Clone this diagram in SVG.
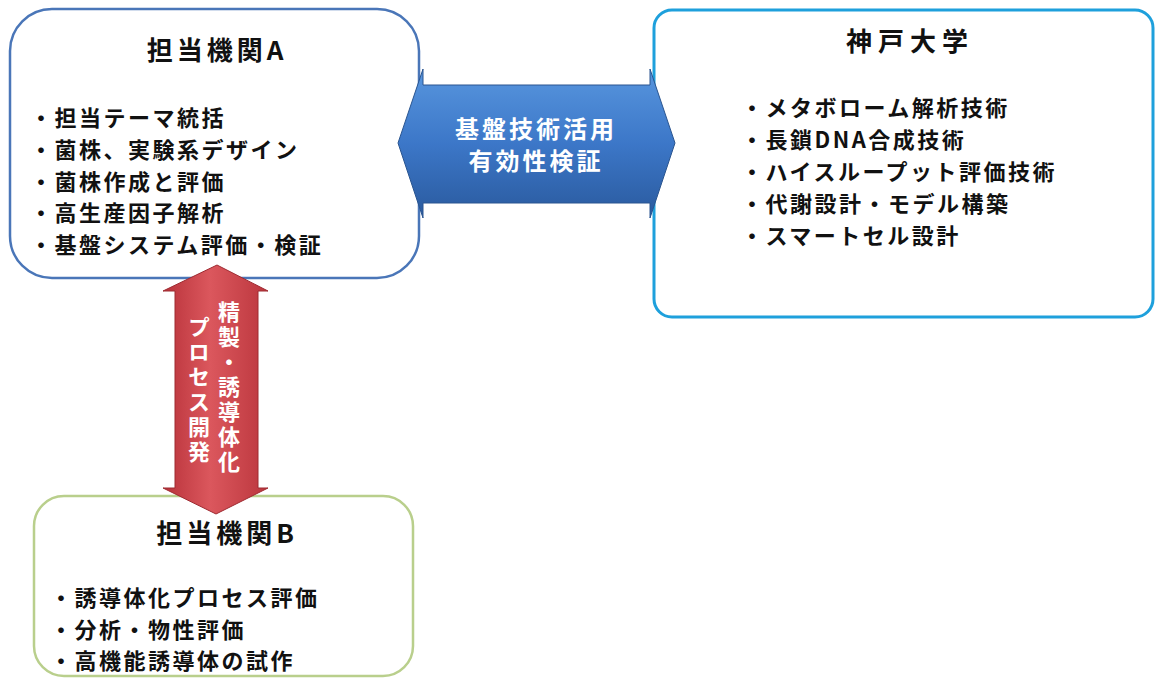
<svg xmlns="http://www.w3.org/2000/svg" width="1155" height="678" viewBox="0 0 1155 678">
<style>
text{font-family:"Noto Sans CJK JP","Noto Sans",sans-serif;font-weight:bold;fill:#111;}
.title{font-size:26px;letter-spacing:4px;text-anchor:middle;}
.item{font-size:22px;letter-spacing:2.5px;}
.wt{fill:#fff;font-size:24px;letter-spacing:3px;text-anchor:middle;}
.vt{fill:#fff;font-size:22px;letter-spacing:3px;text-anchor:middle;writing-mode:vertical-rl;}
.box{fill:#fff;}
</style>
<defs>
<linearGradient id="gBlue" x1="0" y1="0" x2="0" y2="1">
<stop offset="0" stop-color="#5896de"/>
<stop offset="0.5" stop-color="#3c77c8"/>
<stop offset="1" stop-color="#2a5a9e"/>
</linearGradient>
<linearGradient id="gRed" x1="0" y1="0" x2="1" y2="0">
<stop offset="0" stop-color="#b8323a"/>
<stop offset="0.45" stop-color="#db575d"/>
<stop offset="1" stop-color="#bb363d"/>
</linearGradient>
</defs>
<g id="nodeA">
<rect class="box" x="10" y="9" width="409" height="269" rx="42" stroke="#4a76b8" stroke-width="2.5"/>
<text class="title" x="217" y="60">担当機関A</text>
<text class="item" x="30" y="126">・担当テーマ統括</text>
<text class="item" x="30" y="158">・菌株、実験系デザイン</text>
<text class="item" x="30" y="190">・菌株作成と評価</text>
<text class="item" x="30" y="221">・高生産因子解析</text>
<text class="item" x="30" y="253">・基盤システム評価・検証</text>
</g>
<g id="nodeKobe">
<rect class="box" x="654" y="10" width="499" height="307" rx="18" stroke="#1ea0dc" stroke-width="3"/>
<text class="title" x="910" y="51" style="letter-spacing:6px">神戸大学</text>
<text class="item" x="741" y="116">・メタボローム解析技術</text>
<text class="item" x="741" y="148">・長鎖DNA合成技術</text>
<text class="item" x="741" y="180">・ハイスループット評価技術</text>
<text class="item" x="741" y="212">・代謝設計・モデル構築</text>
<text class="item" x="741" y="244">・スマートセル設計</text>
</g>
<g id="nodeB">
<rect class="box" x="34" y="496" width="379" height="180" rx="30" stroke="#b9cf8c" stroke-width="2.5"/>
<text class="title" x="227" y="543">担当機関B</text>
<text class="item" x="50" y="606">・誘導体化プロセス評価</text>
<text class="item" x="50" y="638">・分析・物性評価</text>
<text class="item" x="50" y="669">・高機能誘導体の試作</text>
</g>
<g id="connectors">
<g id="arrowBlue">
<polygon points="398,143 423,69 423,85 650,85 650,69 675,143 650,218 650,203 423,203 423,218" fill="url(#gBlue)" stroke="#2a5590" stroke-width="1"/>
<text class="wt" x="536" y="138">基盤技術活用</text>
<text class="wt" x="536" y="170">有効性検証</text>
</g>
<g id="arrowRed">
<polygon points="217,265 268,291 258,291 258,488 268,488 216,514 163,488 175,488 175,291 163,291" fill="url(#gRed)" stroke="#9e2a31" stroke-width="1"/>
<text class="vt" x="229" y="388">精製・誘導体化</text>
<text class="vt" x="199" y="391">プロセス開発</text>
</g>
</g>
</svg>
